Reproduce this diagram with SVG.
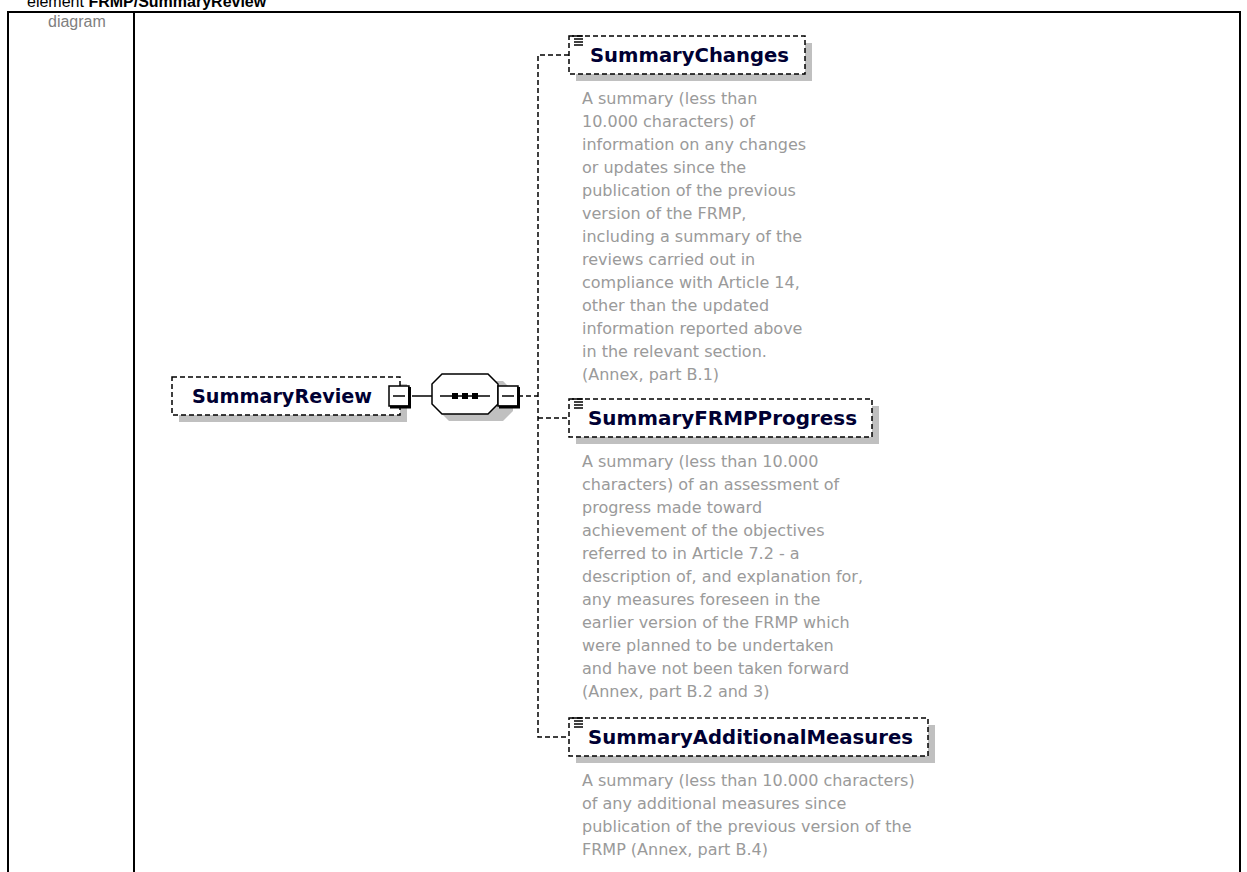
<svg xmlns="http://www.w3.org/2000/svg" width="1247" height="872" viewBox="0 0 1247 872">
<defs>
<style>
.title{font-family:"Liberation Sans",Arial,sans-serif;font-size:16px;fill:#000}
.lbl{font-family:"Liberation Sans",Arial,sans-serif;font-size:16px;fill:#808080}
.frame{fill:none;stroke:#000;stroke-width:2}
.shadow{fill:#c0c0c0}
.box{fill:#fff;stroke:#000;stroke-width:1.5;stroke-dasharray:5 3}
.name{font-family:"DejaVu Sans",sans-serif;font-weight:bold;font-size:19px;fill:#000033}
.doc{font-family:"DejaVu Sans",sans-serif;font-size:16px;fill:#9a9a9a}
.conn{fill:none;stroke:#000;stroke-width:1.5;stroke-dasharray:5 3}
.solid{fill:none;stroke:#000;stroke-width:1.5}
.icon{stroke:#000;stroke-width:1.5}
</style>
<g id="docicon">
<line class="icon" x1="0" y1="0" x2="11" y2="0"/>
<line class="icon" x1="2" y1="3" x2="11" y2="3"/>
<line class="icon" x1="2" y1="6" x2="11" y2="6"/>
<line class="icon" x1="2" y1="9" x2="11" y2="9"/>
</g>
<g id="minus">
<rect x="0" y="0" width="20" height="20" fill="#fff" stroke="#000" stroke-width="1.5"/>
<path d="M20.5 1 V21 H1" fill="none" stroke="#000" stroke-width="3"/>
<line x1="4" y1="10" x2="16" y2="10" stroke="#000" stroke-width="1.5"/>
</g>
</defs>
<rect width="1247" height="872" fill="#fff"/>
<text class="title" x="27" y="7">element <tspan font-weight="bold">FRMP/SummaryReview</tspan></text>
<path class="frame" d="M8 880 V12 H1240 V880 M134 12 V880"/>
<text class="lbl" x="48" y="27">diagram</text>

<g id="connectors">
<line class="solid" x1="412" y1="396" x2="432" y2="396"/>
<polyline class="conn" points="518,396 538,396"/>
<polyline class="conn" points="569,55 538,55 538,737 569,737"/>
<polyline class="conn" points="538,418 569,418"/>
</g>

<g id="SummaryReview">
<rect class="shadow" x="179" y="384" width="228" height="38"/>
<rect class="box" x="172" y="377" width="228" height="38"/>
<text class="name" x="192" y="403" textLength="180" lengthAdjust="spacingAndGlyphs">SummaryReview</text>
<use href="#minus" x="389" y="386"/>
</g>

<g id="sequence">
<path class="shadow" d="M449 381 H503 L513 391 V411 L503 421 H449 L439 411 V391 Z"/>
<path d="M442 374 H488 L498 384 V404 L488 414 H442 L432 404 V384 Z" fill="#fff" stroke="#000" stroke-width="1.5"/>
<line x1="440" y1="396" x2="490" y2="396" stroke="#000" stroke-width="1.5"/>
<rect x="452" y="393" width="6" height="6" fill="#000"/>
<rect x="462" y="393" width="6" height="6" fill="#000"/>
<rect x="472" y="393" width="6" height="6" fill="#000"/>
<use href="#minus" x="498" y="386"/>
</g>

<g id="SummaryChanges">
<rect class="shadow" x="576" y="43" width="236" height="38"/>
<rect class="box" x="569" y="36" width="236" height="38"/>
<use href="#docicon" x="572" y="36"/>
<text class="name" x="590" y="62" textLength="199" lengthAdjust="spacingAndGlyphs">SummaryChanges</text>
<text class="doc">
<tspan x="582" y="104">A summary (less than</tspan>
<tspan x="582" y="127">10.000 characters) of</tspan>
<tspan x="582" y="150">information on any changes</tspan>
<tspan x="582" y="173">or updates since the</tspan>
<tspan x="582" y="196">publication of the previous</tspan>
<tspan x="582" y="219">version of the FRMP,</tspan>
<tspan x="582" y="242">including a summary of the</tspan>
<tspan x="582" y="265">reviews carried out in</tspan>
<tspan x="582" y="288">compliance with Article 14,</tspan>
<tspan x="582" y="311">other than the updated</tspan>
<tspan x="582" y="334">information reported above</tspan>
<tspan x="582" y="357">in the relevant section.</tspan>
<tspan x="582" y="380">(Annex, part B.1)</tspan>
</text>
</g>

<g id="SummaryFRMPProgress">
<rect class="shadow" x="576" y="406" width="303" height="38"/>
<rect class="box" x="569" y="399" width="303" height="38"/>
<use href="#docicon" x="572" y="399"/>
<text class="name" x="588" y="425" textLength="269" lengthAdjust="spacingAndGlyphs">SummaryFRMPProgress</text>
<text class="doc">
<tspan x="582" y="467">A summary (less than 10.000</tspan>
<tspan x="582" y="490">characters) of an assessment of</tspan>
<tspan x="582" y="513">progress made toward</tspan>
<tspan x="582" y="536">achievement of the objectives</tspan>
<tspan x="582" y="559">referred to in Article 7.2 - a</tspan>
<tspan x="582" y="582">description of, and explanation for,</tspan>
<tspan x="582" y="605">any measures foreseen in the</tspan>
<tspan x="582" y="628">earlier version of the FRMP which</tspan>
<tspan x="582" y="651">were planned to be undertaken</tspan>
<tspan x="582" y="674">and have not been taken forward</tspan>
<tspan x="582" y="697">(Annex, part B.2 and 3)</tspan>
</text>
</g>

<g id="SummaryAdditionalMeasures">
<rect class="shadow" x="576" y="725" width="359" height="38"/>
<rect class="box" x="569" y="718" width="359" height="38"/>
<use href="#docicon" x="572" y="718"/>
<text class="name" x="588" y="744" textLength="325" lengthAdjust="spacingAndGlyphs">SummaryAdditionalMeasures</text>
<text class="doc">
<tspan x="582" y="786">A summary (less than 10.000 characters)</tspan>
<tspan x="582" y="809">of any additional measures since</tspan>
<tspan x="582" y="832">publication of the previous version of the</tspan>
<tspan x="582" y="855">FRMP (Annex, part B.4)</tspan>
</text>
</g>
</svg>
